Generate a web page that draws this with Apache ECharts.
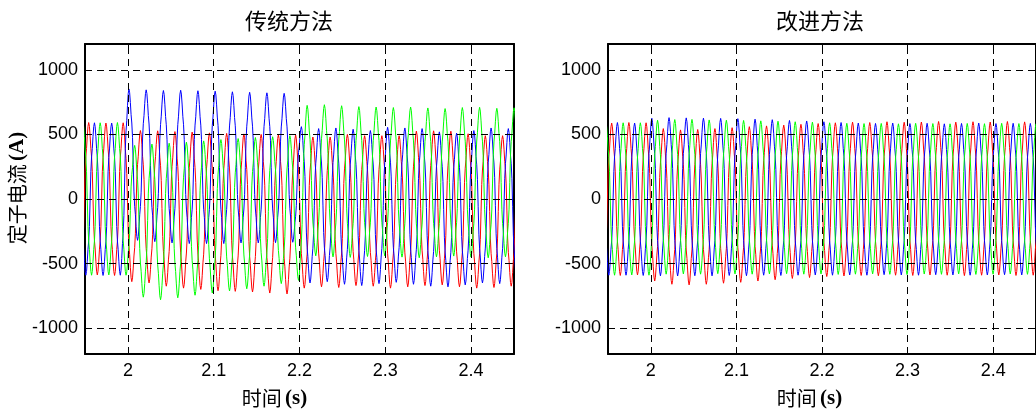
<!DOCTYPE html>
<html>
<head>
<meta charset="utf-8">
<script src="https://cdn.jsdelivr.net/npm/echarts@6/dist/echarts.min.js"></script>
<style>
html,body{margin:0;padding:0;background:#fff;}
#chart{width:1036px;height:416px;}
</style>
</head>
<body>
<div id="chart"></div>
<script>
// ---- tick labels ----
const xTicks = [2.0, 2.1, 2.2, 2.3, 2.4];
const yTicks = [-1000, -500, 0, 500, 1000];

// ---- timing (s) ----
const firstPeakTime = 1.9342;          // first red-phase peak
const period = 0.0201;                  // one electrical cycle
const phaseLag = [0, 0.0067, 0.0134];   // red, blue, green

// ---- one-cycle waveform shape (normalized, peak -> trough -> peak) ----
const waveShape = [1.00, 0.95, 0.82, 0.66, 0.55, 0.36, 0.00, -0.36, -0.55, -0.66, -0.82, -0.95,
                   -1.00, -0.95, -0.82, -0.66, -0.55, -0.36, 0.00, 0.36, 0.55, 0.66, 0.82, 0.95];

// ---- 传统方法: per-cycle peaks / troughs (A) ----
const convRedPeak = [590, 592, 588, 590, 530, 528, 522, 518, 512, 508, 504, 500, 498, 495,
                     480, 480, 500, 490, 490, 490, 525, 528, 525, 505, 490, 490, 495];
const convRedTrough = [-590, -588, -592, -640, -650, -675, -690, -700, -710, -715, -720, -728, -735, -690,
                       -680, -685, -670, -675, -690, -680, -670, -665, -680, -690, -685, -675, -680];
const convBluePeak = [592, 590, 588, 852, 845, 840, 842, 838, 835, 830, 826, 822, 818, 560,
                      545, 550, 540, 530, 555, 550, 545, 520, 510, 530, 550, 545, 540];
const convBlueTrough = [-590, -592, -590, -320, -330, -340, -345, -345, -345, -340, -340, -338, -335, -650,
                        -640, -660, -670, -655, -645, -660, -675, -680, -665, -650, -655, -665, -660];
const convGreenPeak = [588, 590, 592, 415, 425, 432, 440, 450, 460, 468, 476, 482, 490, 725,
                       730, 722, 715, 712, 708, 712, 705, 700, 708, 710, 702, 706, 710];
const convGreenTrough = [-590, -588, -590, -760, -780, -765, -745, -728, -712, -695, -675, -655, -630, -440,
                         -448, -452, -445, -440, -450, -455, -448, -442, -450, -455, -448, -445, -450];

// ---- 改进方法: per-cycle peaks / troughs (A) ----
const impRedPeak = [590, 588, 592, 590, 545, 535, 538, 545, 552, 560, 566, 572, 578, 584,
                    590, 595, 592, 598, 594, 596, 600, 595, 598, 596, 600, 597, 595];
const impRedTrough = [-590, -592, -588, -635, -660, -665, -660, -652, -645, -635, -625, -615, -608, -600,
                      -596, -592, -594, -590, -592, -588, -590, -593, -590, -588, -592, -590, -590];
const impBluePeak = [590, 592, 588, 625, 630, 628, 626, 624, 622, 618, 614, 608, 604, 598,
                     592, 588, 585, 588, 584, 586, 582, 585, 588, 584, 586, 585, 588];
const impBlueTrough = [-590, -590, -592, -595, -596, -594, -595, -592, -594, -590, -592, -590, -588, -590,
                       -588, -590, -586, -588, -590, -586, -588, -590, -588, -586, -588, -590, -588];
const impGreenPeak = [588, 590, 590, 610, 615, 616, 612, 610, 608, 605, 602, 598, 595, 590,
                      586, 584, 585, 582, 586, 584, 582, 585, 583, 586, 584, 582, 585];
const impGreenTrough = [-590, -588, -590, -582, -580, -582, -578, -580, -582, -580, -578, -582, -580, -584,
                        -582, -580, -583, -585, -581, -583, -580, -584, -582, -580, -583, -581, -582];

// build a phase trace from read peaks/troughs and the read cycle shape
function buildWave(peaks, troughs, lag) {
  const pts = [];
  const n = waveShape.length, half = n / 2;
  for (let k = 0; k < peaks.length; k++) {
    const tp = firstPeakTime + lag + k * period;
    const nextPeak = k + 1 < peaks.length ? peaks[k + 1] : peaks[k];
    for (let j = 0; j < n; j++) {
      const hi = j < half ? peaks[k] : nextPeak;
      const lo = troughs[k];
      pts.push([tp + j * period / n, (hi + lo) / 2 + (hi - lo) / 2 * waveShape[j]]);
    }
  }
  return pts;
}

const BLACK = '#000';
const tickFont = '"Liberation Sans", Arial, sans-serif';
const cjkFont = '"Noto Sans CJK SC", sans-serif';
const serifFont = '"Liberation Serif", "Times New Roman", serif';

const grids = [
  { left: 85, top: 44, width: 429, height: 310 },
  { left: 608, top: 44, width: 429, height: 310 }
];

function xAxes(gi, namePad) {
  return [
    {
      gridIndex: gi, type: 'value', min: 1.95, max: 2.45, position: 'bottom',
      axisLine: { show: true, onZero: false, lineStyle: { color: BLACK, width: 2 } },
      axisTick: { show: true, inside: true, length: 5, customValues: xTicks, lineStyle: { color: BLACK } },
      axisLabel: { show: true, customValues: xTicks, margin: 8, color: BLACK, fontSize: 18, fontFamily: tickFont,
        formatter: v => String(Math.round(v * 10) / 10) },
      splitLine: { show: false },
      name: '{c|时间} {b|(s)}', nameLocation: 'middle', nameGap: 34,
      nameTextStyle: { padding: namePad, rich: {
        c: { fontFamily: cjkFont, fontSize: 20, color: BLACK },
        b: { fontFamily: serifFont, fontWeight: 'bold', fontSize: 21, color: BLACK } } }
    },
    {
      gridIndex: gi, type: 'value', min: 1.95, max: 2.45, position: 'top',
      axisLine: { show: true, onZero: false, lineStyle: { color: BLACK, width: 2 } },
      axisTick: { show: true, inside: true, length: 5, customValues: xTicks, lineStyle: { color: BLACK } },
      axisLabel: { show: false }, splitLine: { show: false }
    }
  ];
}

function yAxes(gi, withName) {
  const left = {
    gridIndex: gi, type: 'value', min: -1200, max: 1200, position: 'left',
    axisLine: { show: true, onZero: false, lineStyle: { color: BLACK, width: 2 } },
    axisTick: { show: true, inside: true, length: 5, customValues: yTicks, lineStyle: { color: BLACK } },
    axisLabel: { show: true, customValues: yTicks, margin: 7, color: BLACK, fontSize: 18, fontFamily: tickFont,
      formatter: v => String(v) },
    splitLine: { show: false }
  };
  if (withName) {
    left.name = '{c|定子电流} {b|(A)}';
    left.nameLocation = 'middle';
    left.nameGap = 48;
    left.nameTextStyle = { padding: [0, 0, 0, 22], rich: {
      c: { fontFamily: cjkFont, fontSize: 20, color: BLACK },
      b: { fontFamily: serifFont, fontWeight: 'bold', fontSize: 21, color: BLACK } } };
  }
  return [left, {
    gridIndex: gi, type: 'value', min: -1200, max: 1200, position: 'right',
    axisLine: { show: true, onZero: false, lineStyle: { color: BLACK, width: 2 } },
    axisTick: { show: true, inside: true, length: 5, customValues: yTicks, lineStyle: { color: BLACK } },
    axisLabel: { show: false }, splitLine: { show: false }
  }];
}

function gridLines() {
  return {
    silent: true, symbol: 'none', animation: false,
    label: { show: false },
    lineStyle: { color: BLACK, type: [7, 5], width: 1 },
    emphasis: { disabled: true },
    data: xTicks.map(v => ({ xAxis: v })).concat(yTicks.map(v => ({ yAxis: v })))
  };
}

function phaseSeries(gi, data, color, withGrid) {
  const s = {
    type: 'line', xAxisIndex: gi * 2, yAxisIndex: gi * 2, data: data,
    showSymbol: false, symbol: 'none', clip: true, animation: false,
    lineStyle: { color: color, width: 1 }, itemStyle: { color: color },
    emphasis: { disabled: true }
  };
  if (withGrid) s.markLine = gridLines();
  return s;
}

const chart = echarts.init(document.getElementById('chart'), null, { renderer: 'canvas' });
chart.setOption({
  animation: false,
  backgroundColor: '#fff',
  title: [
    { text: '传统方法', left: 284, top: 5, textAlign: 'center',
      textStyle: { fontFamily: cjkFont, fontSize: 22, fontWeight: 'normal', color: BLACK } },
    { text: '改进方法', left: 815, top: 5, textAlign: 'center',
      textStyle: { fontFamily: cjkFont, fontSize: 22, fontWeight: 'normal', color: BLACK } }
  ],
  grid: grids,
  xAxis: xAxes(0, [0, 50, 0, 0]).concat(xAxes(1, [0, 25, 0, 0])),
  yAxis: yAxes(0, true).concat(yAxes(1, false)),
  series: [
    phaseSeries(0, buildWave(convRedPeak, convRedTrough, phaseLag[0]), '#ff0000', true),
    phaseSeries(0, buildWave(convBluePeak, convBlueTrough, phaseLag[1]), '#0000ff', false),
    phaseSeries(0, buildWave(convGreenPeak, convGreenTrough, phaseLag[2]), '#00ff00', false),
    phaseSeries(1, buildWave(impRedPeak, impRedTrough, phaseLag[0]), '#ff0000', true),
    phaseSeries(1, buildWave(impBluePeak, impBlueTrough, phaseLag[1]), '#0000ff', false),
    phaseSeries(1, buildWave(impGreenPeak, impGreenTrough, phaseLag[2]), '#00ff00', false)
  ]
});
</script>
</body>
</html>
